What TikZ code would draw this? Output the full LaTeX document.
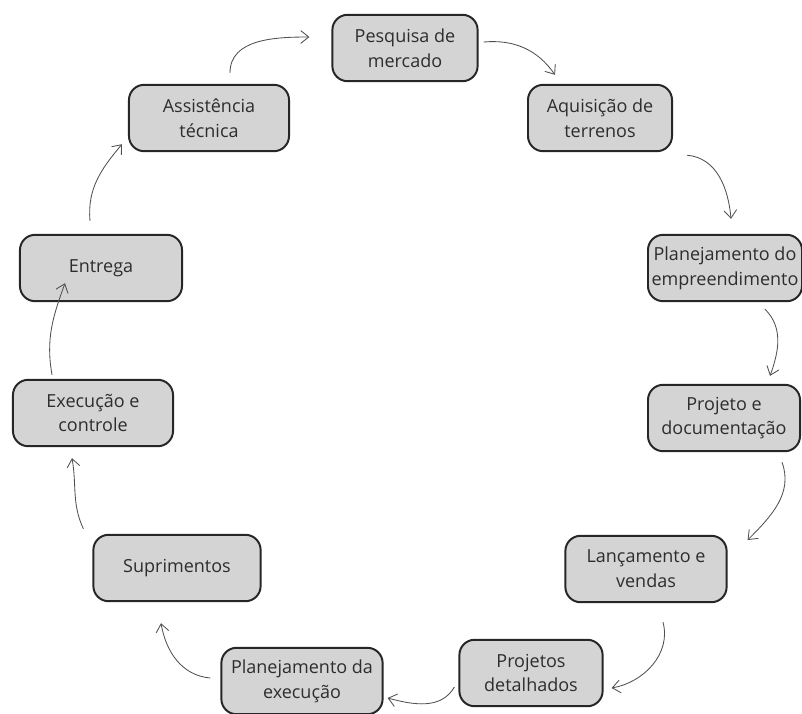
\documentclass[tikz,border=0pt]{standalone}
\usepackage{fontspec}
\setmainfont{Open Sans}
\usetikzlibrary{arrows.meta}
\definecolor{boxfill}{RGB}{212,212,212}
\definecolor{boxline}{RGB}{38,38,38}
\definecolor{boxtext}{RGB}{45,45,45}
\definecolor{flowline}{RGB}{80,80,80}
\tikzset{
  stage/.style={rectangle, rounded corners=0.38cm, draw=boxline, line width=1.4pt,
    fill=boxfill, text=boxtext, align=center, minimum height=1.66cm, inner sep=2pt,
    font=\fontsize{12.8}{17.6}\selectfont},
  flow/.style={draw=flowline, line width=0.6pt,
    -{Straight Barb[length=2mm, width=3.2mm]}},
}

\begin{document}
\begin{tikzpicture}[x=0.025cm, y=0.025cm]
  \useasboundingbox (0,0) rectangle (802,-713);
  % the stages, clockwise from the top
  \node[stage, minimum width=3.63cm] (mercado)  at (405,-48)  {Pesquisa de\\mercado};
  \node[stage, minimum width=3.60cm] (terrenos) at (600,-118) {Aquisição de\\terrenos};
  \node[stage, minimum width=3.85cm] (empreend) at (725,-268) {Planejamento do\\empreendimento};
  \node[stage, minimum width=3.80cm] (docum)    at (724,-418) {Projeto e\\documentação};
  \node[stage, minimum width=4.03cm] (vendas)   at (646,-569) {Lançamento e\\vendas};
  \node[stage, minimum width=3.58cm] (detalhes) at (531,-673) {Projetos\\detalhados};
  \node[stage, minimum width=4.03cm] (planexec) at (302,-681) {Planejamento da\\execução};
  \node[stage, minimum width=4.18cm] (suprim)   at (177,-568) {Suprimentos};
  \node[stage, minimum width=4.00cm] (controle) at (93,-413)  {Execução e\\controle};
  \node[stage, minimum width=4.05cm] (entrega)  at (101,-268) {Entrega};
  \node[stage, minimum width=4.00cm] (assist)   at (209,-118) {Assistência\\técnica};

  % the cycle
  \draw[flow] ([shift={(5,6)}]mercado.east) to[out=5, in=125] ([shift={(-45,9)}]terrenos.north);
  \draw[flow] ([shift={(14,-3)}]terrenos.south east) to[out=-5, in=95] ([shift={(6,15)}]empreend.north);
  \draw[flow] ([shift={(40,-7)}]empreend.south) to[out=-45, in=70] ([shift={(46,8)}]docum.north);
  \draw[flow] ([shift={(58,-10)}]docum.south) to[out=-70, in=45] ([shift={(20,29)}]vendas.east);
  \draw[flow] ([shift={(17,-19)}]vendas.south) to[out=-75, in=10] ([shift={(8,-15)}]detalhes.east);
  \draw[flow] ([shift={(-4,-14)}]detalhes.west) to[out=-120, in=-15] ([shift={(4,-17)}]planexec.east);
  \draw[flow] ([shift={(-10,3)}]planexec.west) to[out=175, in=-80] ([shift={(-16,-21)}]suprim.south);
  \draw[flow] ([shift={(-9,5)}]suprim.north west) to[out=115, in=-80] ([shift={(-21,-11)}]controle.south);
  \draw[flow] ([shift={(-41,4)}]controle.north) to[out=100, in=-110] ([shift={(-36,19)}]entrega.south);
  \draw[flow] ([shift={(-11,13)}]entrega.north) to[out=95, in=-130] ([shift={(-6,8)}]assist.south west);
  \draw[flow] ([shift={(21,11)}]assist.north) to[out=90, in=180] ([shift={(-22,11)}]mercado.west);
\end{tikzpicture}
\end{document}
